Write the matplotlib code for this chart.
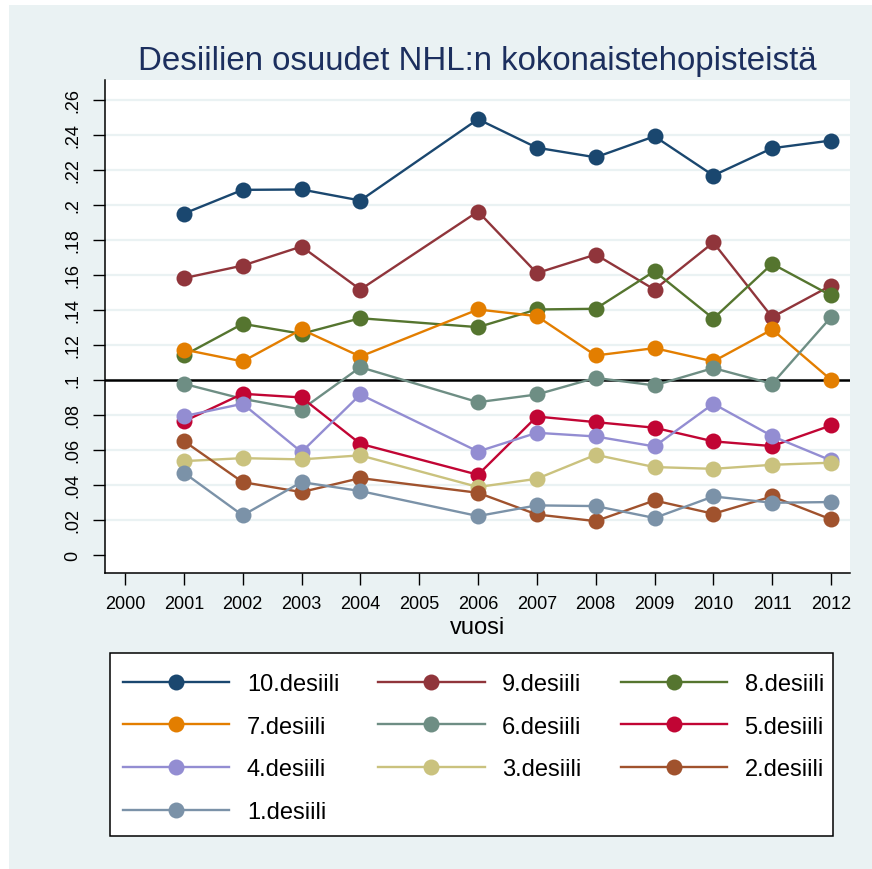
#!/usr/bin/env python3
"""
Desiilien osuudet NHL:n kokonaistehopisteista -- Stata-style line chart.
"""
import matplotlib
matplotlib.rcParams.update({'font.family': ['Liberation Sans', 'DejaVu Sans']})
import matplotlib.pyplot as plt
from matplotlib.patches import Rectangle

# ── Data ──────────────────────────────────────────────────────────────────────
years = [2001, 2002, 2003, 2004, 2006, 2007, 2008, 2009, 2010, 2011, 2012]

d10 = [0.195, 0.2086, 0.2088, 0.2025, 0.249, 0.2327, 0.2272, 0.2392, 0.2168, 0.2324, 0.2368]
d9 = [0.1581, 0.1653, 0.1762, 0.1516, 0.1962, 0.161, 0.1716, 0.1516, 0.1785, 0.1358, 0.1539]
d8 = [0.1139, 0.132, 0.1263, 0.1352, 0.1301, 0.1402, 0.1406, 0.1621, 0.135, 0.1663, 0.1482]
d7 = [0.1173, 0.1105, 0.1288, 0.1133, 0.1402, 0.1364, 0.1139, 0.1181, 0.1105, 0.1288, 0.1]
d6 = [0.0977, 0.0891, 0.083, 0.1072, 0.0872, 0.0916, 0.1011, 0.0968, 0.1067, 0.0977, 0.1358]
d5 = [0.0762, 0.092, 0.0899, 0.0634, 0.0457, 0.079, 0.0758, 0.0726, 0.0648, 0.0621, 0.0739]
d4 = [0.0792, 0.0863, 0.0587, 0.0916, 0.059, 0.0697, 0.0676, 0.0619, 0.0863, 0.0678, 0.0539]
d3 = [0.0535, 0.0552, 0.0545, 0.0568, 0.0387, 0.0434, 0.0571, 0.0501, 0.0491, 0.0514, 0.0526]
d2 = [0.065, 0.0415, 0.0358, 0.0438, 0.0354, 0.023, 0.0192, 0.031, 0.0234, 0.0333, 0.0202]
d1 = [0.0469, 0.0225, 0.0415, 0.0364, 0.0221, 0.0282, 0.0278, 0.021, 0.0333, 0.0297, 0.0301]

series = [d10, d9, d8, d7, d6, d5, d4, d3, d2, d1]
labels = ['10.desiili', '9.desiili', '8.desiili', '7.desiili', '6.desiili',
          '5.desiili', '4.desiili', '3.desiili', '2.desiili', '1.desiili']
colors = ['#1A476F', '#90353B', '#55752F', '#E37E00', '#6E8E84',
          '#C10534', '#938DD2', '#CAC27E', '#A0522D', '#7B92A8']

xticks = list(range(2000, 2013))
yticks = [0, 0.02, 0.04, 0.06, 0.08, 0.1, 0.12, 0.14, 0.16, 0.18, 0.2, 0.22, 0.24, 0.26]
ytick_labels = ['0', '.02', '.04', '.06', '.08', '.1', '.12', '.14', '.16', '.18',
                '.2', '.22', '.24', '.26']

BG = '#EAF2F3'
W, H = 872, 870

# ── Figure ────────────────────────────────────────────────────────────────────
fig = plt.figure(figsize=(W / 100, H / 100), dpi=100, facecolor='white')
fig.patches.append(Rectangle((9 / W, 0), 1 - 9 / W, 1 - 6 / H, transform=fig.transFigure,
                             facecolor=BG, edgecolor='none', zorder=-10))

ax = fig.add_axes([105.3 / W, 1 - 574 / H, (850 - 105.3) / W, (574 - 81) / H])
ax.set_facecolor('white')

for t in yticks[1:]:
    ax.axhline(t, color=BG, lw=1.6, zorder=0)
ax.axhline(0.1, color='black', lw=1.8, zorder=1)

handles = []
for vals, lab, col in zip(series, labels, colors):
    h, = ax.plot(years, vals, color=col, lw=1.7, marker='o', ms=11.5,
                 markeredgewidth=0, label=lab, zorder=3)
    handles.append(h)

ax.set_xlim(1999.665, 2012.323)
ax.set_ylim(-0.01046, 0.2714)
ax.set_xticks(xticks)
ax.set_xticklabels([str(x) for x in xticks], fontsize=13)
ax.set_yticks(yticks)
ax.set_yticklabels(ytick_labels, fontsize=13, rotation=90, va='center')
ax.tick_params(axis='both', length=8.5, width=1, color='black', pad=7)
ax.tick_params(axis='y', pad=9)
for s in ['top', 'right']:
    ax.spines[s].set_visible(False)
for s in ['left', 'bottom']:
    ax.spines[s].set_linewidth(1.1)
ax.set_xlabel('vuosi', fontsize=17, labelpad=3)

fig.text(477.5 / W, 1 - 70 / H, 'Desiilien osuudet NHL:n kokonaistehopisteistä',
         ha='center', va='baseline', fontsize=23.8, color='#1C2F5E')

# legend box drawn separately so its size can be fixed
fig.add_artist(Rectangle((110 / W, 1 - 837 / H), (833 - 110) / W, (837 - 654) / H,
                         transform=fig.transFigure, facecolor='white',
                         edgecolor='black', lw=1.1, zorder=4))

# legend in row-major order, 3 columns
order = [0, 3, 6, 9, 1, 4, 7, 2, 5, 8]
leg = fig.legend([handles[i] for i in order], [labels[i] for i in order],
                 ncol=3, loc='upper left', bbox_to_anchor=(123 / W, 1 - 674 / H),
                 bbox_transform=fig.transFigure, borderaxespad=0,
                 fontsize=17, handlelength=4.5, handletextpad=0.75,
                 columnspacing=1.65, labelspacing=0.877, borderpad=0,
                 frameon=False)
leg.set_zorder(5)

fig.savefig('out.png', dpi=100, facecolor=fig.get_facecolor())
